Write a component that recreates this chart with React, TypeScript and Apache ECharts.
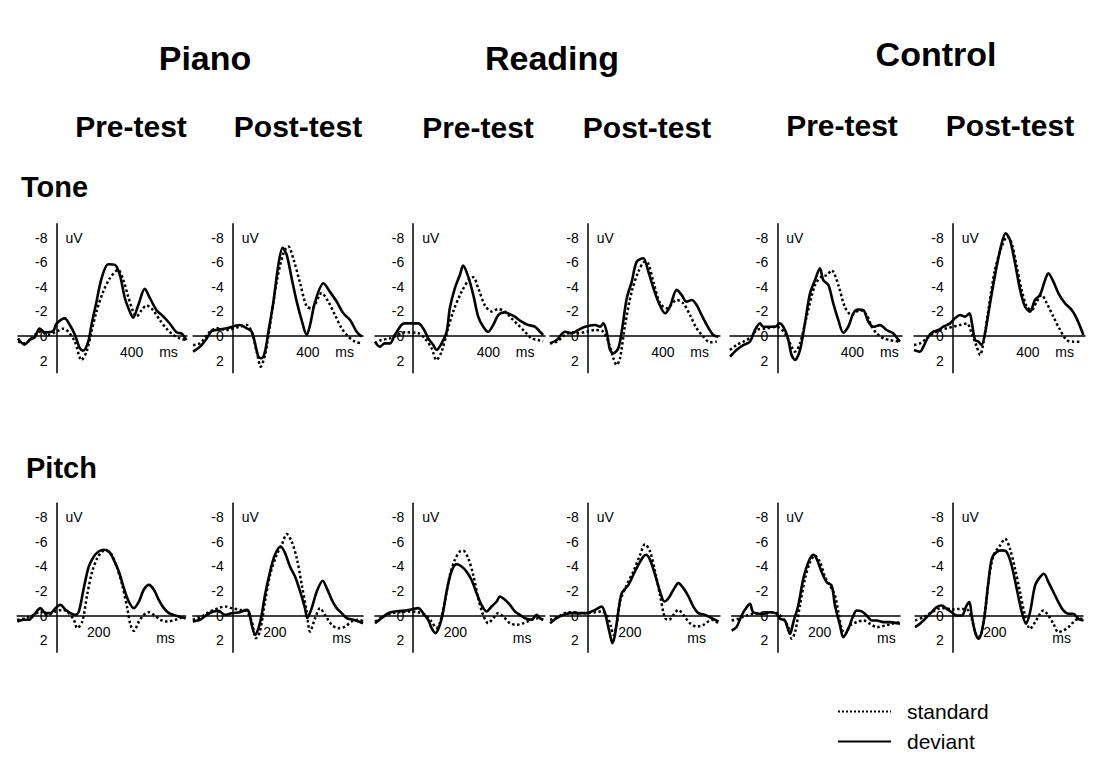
import React, { useEffect, useRef } from "react";
import * as echarts from "echarts";

// ---------- labels ----------
const groups = ["Piano", "Reading", "Control"];
const sessions = ["Pre-test", "Post-test"];
const rowNames = ["Tone", "Pitch"];
const yTicks = [-8, -6, -4, -2, 0, 2];
const toneTicks = [400];
const pitchTicks = [200];
const legendNames = ["standard", "deviant"];

// ---------- data: [ms, uV] ----------
const tonePianoPreDev = [[-205,0.2],[-170,0.7],[-142,0.3],[-115,0.1],[-90,-0.6],[-62,-0.3],[-18,-0.4],[0,-1.0],[44,-1.44],[71,-0.9],[98,-0.1],[124,1.0],[142,1.2],[169,0.46],[186,-0.9],[213,-2.8],[240,-4.7],[275,-5.85],[311,-5.8],[337,-5.0],[364,-3.1],[390,-2.0],[408,-1.5],[435,-2.5],[470,-3.84],[497,-3.1],[533,-2.1],[568,-1.6],[604,-1.0],[639,-0.3],[666,-0.2],[692,0.33]];
const tonePianoPreStd = [[-205,0.46],[-169,0.6],[-115,-0.1],[-89,-0.35],[-44,-0.1],[0,-0.35],[36,-0.6],[62,-0.35],[98,0.46],[133,1.96],[160,1.28],[186,-0.35],[213,-2.0],[248,-3.6],[284,-4.7],[328,-5.4],[355,-4.6],[382,-3.2],[408,-2.0],[426,-1.6],[453,-2.1],[479,-2.5],[515,-2.1],[550,-1.3],[586,-0.6],[621,-0.1],[657,0.2],[692,0.33]];
const tonePianoPostDev = [[-211,1.28],[-174,0.87],[-138,0.19],[-112,-0.41],[-85,-0.49],[-32,-0.63],[39,-0.9],[75,-0.63],[101,-0.35],[119,0.6],[137,1.69],[154,1.82],[172,1.28],[190,-0.35],[217,-2.8],[243,-5.8],[266,-7.2],[288,-6.6],[314,-4.7],[341,-2.8],[367,-1.3],[394,-0.08],[412,-0.9],[439,-2.8],[483,-4.3],[518,-3.6],[554,-2.8],[589,-1.85],[625,-1.3],[660,-0.35],[687,0.05]];
const tonePianoPostStd = [[-211,0.73],[-174,0.6],[-121,-0.35],[-85,-0.63],[-32,-0.49],[39,-0.76],[75,-0.9],[101,-0.35],[128,1.28],[149,2.5],[172,1.55],[199,-0.9],[234,-4.4],[270,-6.75],[296,-7.3],[323,-6.3],[359,-4.3],[394,-2.4],[421,-2.26],[474,-3.5],[509,-2.8],[545,-1.7],[580,-0.63],[616,0.05],[651,0.46],[687,0.6]];
const toneReadingPreDev = [[-204,0.46],[-178,0.87],[-151,0.6],[-124,0.6],[-98,-0.08],[-62,-0.9],[-44,-1.03],[27,-1.03],[53,-0.63],[80,0.19],[107,0.73],[124,1.14],[151,0.6],[178,-0.35],[195,-2.26],[222,-3.9],[249,-5.0],[266,-5.74],[293,-4.84],[320,-3.35],[346,-1.58],[373,-0.76],[399,-0.35],[426,-0.9],[453,-1.7],[488,-1.93],[506,-1.85],[541,-1.58],[577,-1.17],[612,-0.9],[648,-0.76],[674,-0.35],[692,-0.08]];
const toneReadingPreStd = [[-204,0.6],[-169,0.33],[-124,0.19],[-80,-0.08],[-44,-0.3],[27,-0.22],[62,0.19],[98,1.0],[124,1.96],[151,1.28],[186,-0.63],[213,-2.0],[257,-3.6],[302,-4.7],[320,-4.8],[346,-3.9],[382,-2.5],[417,-2.0],[453,-2.2],[488,-2.0],[524,-1.44],[559,-0.9],[595,-0.35],[630,0.19],[666,0.33],[692,0.41]];
const toneReadingPostDev = [[-201,0.6],[-165,0.33],[-121,-0.35],[-85,-0.22],[-50,-0.49],[-14,-0.76],[39,-0.9],[66,-0.76],[83,-1.03],[101,-0.35],[119,1.14],[137,1.41],[163,1.0],[181,-0.35],[208,-3.07],[234,-4.4],[261,-6.07],[296,-6.34],[323,-5.25],[350,-3.9],[376,-2.8],[412,-1.85],[438,-2.4],[474,-3.76],[500,-3.35],[527,-2.8],[554,-2.94],[580,-2.53],[607,-1.7],[634,-0.9],[669,-0.08],[696,0.05]];
const toneReadingPostStd = [[-201,0.6],[-165,0.46],[-121,-0.08],[-85,-0.3],[-50,-0.22],[-5,-0.35],[39,-0.49],[83,-0.35],[110,0.46],[137,1.82],[154,2.37],[172,1.82],[199,-0.9],[234,-3.6],[270,-5.25],[305,-6.07],[323,-5.9],[350,-4.4],[385,-2.67],[421,-2.26],[474,-2.94],[509,-2.67],[545,-1.7],[580,-0.63],[616,0.05],[651,0.52],[687,0.46]];
const toneControlPreDev = [[-252,1.69],[-217,1.14],[-181,0.74],[-146,0.47],[-119,-0.49],[-92,-1.03],[-75,-0.76],[-48,-0.76],[-12,-0.76],[14,-1.03],[41,-0.49],[59,0.33],[76,1.55],[94,1.96],[121,1.14],[147,-1.03],[174,-3.46],[201,-4.56],[227,-5.52],[245,-4.56],[272,-4.16],[298,-2.66],[325,-1.3],[351,-0.27],[378,-0.76],[405,-1.86],[431,-2.16],[458,-2.12],[485,-1.16],[511,-0.76],[547,-0.89],[582,-0.49],[618,-0.21],[653,0.47]];
const toneControlPreStd = [[-252,1.14],[-217,0.74],[-181,0.47],[-137,0.06],[-110,-0.49],[-57,-0.62],[-4,-0.76],[41,-0.21],[76,0.87],[94,1.28],[121,0.6],[156,-1.56],[201,-4.16],[236,-4.86],[263,-4.96],[289,-5.36],[325,-4.16],[360,-2.36],[396,-1.71],[440,-2.12],[476,-1.71],[503,-0.76],[529,-0.21],[565,0.19],[600,0.33],[653,0.47]];
const toneControlPostDev = [[-206,1.14],[-174,1.28],[-156,0.87],[-130,0.05],[-103,-0.35],[-76,-0.49],[-50,-0.76],[-14,-1.03],[12,-1.44],[39,-1.71],[66,-1.58],[89,-1.85],[101,-1.17],[119,0.33],[137,0.46],[154,0.73],[172,-0.22],[199,-2.67],[234,-5.66],[261,-7.56],[282,-8.38],[305,-7.84],[332,-5.93],[359,-3.76],[385,-2.4],[412,-1.99],[438,-2.94],[465,-3.35],[492,-4.57],[509,-5.12],[536,-4.44],[563,-3.48],[598,-2.67],[634,-2.12],[660,-1.44],[696,-0.08]];
const toneControlPostStd = [[-206,0.73],[-174,0.6],[-138,0.19],[-103,-0.22],[-67,-0.49],[-32,-0.63],[4,-0.76],[39,-0.9],[75,-1.03],[101,-0.22],[128,0.87],[146,1.55],[163,0.6],[190,-2.12],[225,-5.39],[261,-7.29],[291,-8.1],[314,-7.56],[341,-5.66],[367,-3.76],[394,-2.4],[421,-2.12],[447,-2.8],[474,-3.35],[501,-2.67],[536,-1.58],[572,-0.49],[607,0.33],[643,0.46],[678,0.46]];

const pitchPianoPreDev = [[-186,0.49],[-155,0.35],[-131,0.35],[-107,-0.05],[-76,-0.6],[-52,-0.19],[-28,-0.19],[-5,-0.6],[19,-0.87],[43,-0.46],[66,-0.19],[90,-0.05],[106,-0.33],[129,-2.23],[153,-4.0],[177,-4.82],[200,-5.22],[224,-5.36],[248,-5.22],[271,-4.54],[295,-3.59],[319,-2.23],[342,-1.14],[366,-0.6],[390,-1.14],[413,-2.1],[437,-2.5],[461,-2.1],[484,-1.28],[508,-0.6],[532,-0.19],[555,-0.05],[579,0.08],[611,0.22]];
const pitchPianoPreStd = [[-186,0.35],[-147,0.22],[-107,-0.05],[-76,-0.33],[-44,-0.05],[-5,-0.33],[27,-0.46],[50,-0.33],[82,0.35],[98,1.03],[122,0.49],[145,-1.69],[169,-3.59],[193,-4.68],[216,-5.22],[232,-5.28],[256,-5.09],[279,-4.27],[311,-2.5],[335,-0.6],[350,0.76],[366,1.25],[390,0.49],[413,-0.05],[437,-0.27],[461,-0.05],[492,0.35],[524,0.49],[563,0.35],[595,0.16],[611,0.22]];
const pitchPianoPostDev = [[-189,0.49],[-155,0.35],[-123,-0.05],[-92,-0.33],[-68,-0.38],[-36,-0.05],[-5,-0.19],[35,-0.27],[66,-0.46],[79,-0.19],[90,0.76],[106,1.58],[122,1.03],[137,-0.05],[153,-1.69],[177,-3.59],[200,-4.95],[227,-5.63],[248,-5.09],[271,-4.0],[295,-3.18],[319,-1.96],[342,-0.6],[353,0.22],[374,-0.6],[398,-1.96],[426,-2.83],[445,-2.23],[469,-1.28],[492,-0.6],[516,-0.19],[540,0.22],[571,0.35],[617,0.63]];
const pitchPianoPostStd = [[-189,0.35],[-147,0.08],[-107,-0.33],[-68,-0.6],[-36,-0.73],[-5,-0.6],[35,-0.46],[66,-0.33],[90,0.49],[110,1.85],[129,1.31],[153,-1.14],[177,-3.32],[208,-4.95],[232,-5.77],[256,-6.64],[279,-6.04],[303,-4.68],[327,-2.5],[350,-0.33],[366,1.31],[390,0.22],[413,-0.6],[437,-0.05],[469,0.76],[500,1.03],[532,0.9],[563,0.49],[595,0.35],[617,0.49]];
const pitchReadingPreDev = [[-181,0.63],[-150,0.22],[-118,-0.19],[-87,-0.33],[-55,-0.38],[-16,-0.46],[24,-0.6],[47,-0.19],[71,0.35],[87,1.03],[106,1.44],[126,0.76],[142,-0.33],[158,-1.96],[181,-3.59],[205,-4.19],[229,-4.0],[252,-3.59],[276,-2.91],[300,-1.82],[323,-0.87],[347,-0.33],[371,-0.73],[395,-1.14],[410,-1.55],[434,-1.28],[458,-0.87],[481,-0.33],[505,-0.05],[529,0.22],[560,0.35],[584,-0.05],[600,0.22],[615,0.35]];
const pitchReadingPreStd = [[-181,0.49],[-142,0.08],[-103,-0.19],[-63,-0.27],[-16,-0.33],[24,-0.27],[55,-0.05],[87,0.49],[110,1.03],[126,0.63],[150,-1.14],[174,-3.32],[197,-4.54],[221,-5.22],[237,-5.28],[260,-4.68],[284,-3.32],[308,-1.41],[331,-0.05],[355,0.63],[379,0.22],[402,-0.19],[426,0.08],[458,0.63],[489,0.76],[521,0.63],[560,0.35],[592,0.22],[615,0.35]];
const pitchReadingPostDev = [[-178,0.63],[-147,0.22],[-115,-0.05],[-84,-0.19],[-44,-0.19],[-5,-0.19],[35,-0.46],[66,-0.73],[82,-0.19],[95,0.76],[106,1.58],[117,2.26],[129,1.58],[145,-0.33],[161,-1.82],[193,-2.5],[216,-3.32],[240,-4.14],[264,-4.82],[276,-4.95],[295,-4.54],[319,-3.32],[342,-1.96],[363,-1.14],[382,-1.41],[406,-2.1],[429,-2.64],[453,-2.23],[477,-1.55],[500,-0.73],[524,-0.19],[555,-0.05],[587,0.22],[619,0.49]];
const pitchReadingPostStd = [[-178,0.35],[-139,0.08],[-92,-0.27],[-44,-0.19],[-5,-0.19],[35,-0.27],[66,-0.33],[90,-0.05],[110,0.9],[122,1.58],[137,0.76],[153,-1.14],[185,-2.5],[216,-3.59],[248,-4.95],[271,-5.82],[295,-5.22],[319,-3.59],[342,-1.69],[366,0.22],[385,0.35],[406,-0.05],[429,-0.46],[453,-0.05],[484,0.63],[516,0.9],[548,0.76],[587,0.35],[619,0.63]];
const pitchControlPreDev = [[-216,1.22],[-193,0.95],[-169,0],[-145,-0.68],[-129,-0.95],[-114,-0.27],[-66,-0.14],[-35,-0.27],[-3,-0.14],[13,0.27],[36,0.41],[60,1.5],[76,0.54],[99,-0.82],[123,-2.99],[147,-4.35],[170,-4.95],[186,-4.63],[210,-3.54],[234,-2.72],[257,-2.45],[273,-0.82],[297,0.82],[312,1.77],[336,1.09],[360,0],[376,-0.41],[399,-0.33],[423,0],[447,0.41],[470,0.41],[502,0.54],[533,0.54],[581,0.68]];
const pitchControlPreStd = [[-216,0.41],[-185,0.27],[-145,0],[-114,-0.14],[-66,-0.22],[-27,-0.27],[5,-0.14],[28,0.27],[52,0.95],[68,1.9],[84,1.36],[107,-0.82],[131,-2.99],[155,-4.35],[178,-4.9],[202,-4.35],[226,-3.13],[249,-2.45],[273,-1.63],[289,-0.27],[305,1.09],[320,1.5],[344,0.82],[376,0.54],[407,0.41],[439,0.68],[470,0.95],[510,0.82],[541,0.68],[581,0.54]];
const pitchControlPostDev = [[-178,0.95],[-155,0.68],[-131,0.27],[-107,-0.14],[-76,-0.68],[-52,-0.82],[-28,-0.54],[-5,-0.27],[19,0],[43,0],[66,-0.82],[79,-1.09],[90,0],[106,1.36],[122,1.9],[137,1.36],[153,-0.27],[169,-2.72],[185,-4.63],[208,-5.17],[232,-5.31],[256,-5.17],[279,-4.08],[303,-2.18],[327,-0.27],[347,0.68],[366,-0.27],[390,-2.45],[413,-3.13],[432,-3.4],[453,-2.72],[477,-1.9],[500,-1.09],[524,-0.41],[548,-0.14],[571,-0.14],[595,0.27],[619,0.41]];
const pitchControlPostStd = [[-178,0.41],[-139,0.14],[-99,-0.27],[-68,-0.54],[-36,-0.6],[-5,-0.49],[27,-0.54],[50,-0.54],[74,-0.41],[90,0.27],[106,1.36],[122,1.77],[137,1.36],[153,-0.27],[169,-2.72],[193,-4.9],[224,-5.71],[248,-6.26],[271,-5.44],[295,-3.81],[319,-1.9],[342,0],[366,1.09],[390,0.54],[413,-0.14],[429,-0.41],[453,0],[477,0.68],[500,1.36],[524,1.22],[548,0.95],[571,0.54],[595,0.27],[619,0.27]];

const panelSeries = [
  [tonePianoPreStd, tonePianoPreDev], [tonePianoPostStd, tonePianoPostDev],
  [toneReadingPreStd, toneReadingPreDev], [toneReadingPostStd, toneReadingPostDev],
  [toneControlPreStd, toneControlPreDev], [toneControlPostStd, toneControlPostDev],
  [pitchPianoPreStd, pitchPianoPreDev], [pitchPianoPostStd, pitchPianoPostDev],
  [pitchReadingPreStd, pitchReadingPreDev], [pitchReadingPostStd, pitchReadingPostDev],
  [pitchControlPreStd, pitchControlPreDev], [pitchControlPostStd, pitchControlPostDev],
];

// ---------- layout ----------
const FONT = '"Liberation Sans", Arial, Helvetica, sans-serif';
const AXIS_X = [56.5, 232.7, 413.2, 587.7, 777.3, 952.7];
const PX_PER_UV = 12.26;
const Y_MIN = -9.15;
const Y_MAX = 3;
const ROWS = [
  { zero: 336, pxPerMs: 0.1878, ticks: toneTicks, msDx: 112, msDy: 16,
    ranges: [[-205, 695], [-211, 694], [-203, 702], [-201, 704], [-252, 664], [-206, 704]] },
  { zero: 615.5, pxPerMs: 0.2113, ticks: pitchTicks, msDx: 109, msDy: 22,
    ranges: [[-186, 611], [-189, 617], [-181, 623], [-178, 626], [-216, 581], [-178, 617]] },
];
const TITLE_POS = [[205, 58], [552, 58], [936, 54]];
const SUB_POS = [[131, 126], [298, 126], [478, 127], [647, 127], [842, 125], [1010, 125]];
const ROWLABEL_POS = [[21, 187], [26, 468]];

function buildOption() {
  const grid: any[] = [], xAxis: any[] = [], yAxis: any[] = [], series: any[] = [], elements: any[] = [];
  const axisLine = { show: true, onZero: false, lineStyle: { color: "#000", width: 1.5 } };
  ROWS.forEach((row, r) => {
    for (let c = 0; c < 6; c++) {
      const i = r * 6 + c;
      const [xmin, xmax] = row.ranges[c];
      const ax = AXIS_X[c];
      grid.push({
        left: ax + xmin * row.pxPerMs,
        top: row.zero + Y_MIN * PX_PER_UV,
        width: (xmax - xmin) * row.pxPerMs,
        height: (Y_MAX - Y_MIN) * PX_PER_UV,
        containLabel: false,
        outerBoundsMode: "none",
      });
      xAxis.push({
        gridIndex: i, type: "value", min: xmin, max: xmax, position: "bottom",
        offset: -Y_MAX * PX_PER_UV,
        axisLine, axisTick: { show: false }, splitLine: { show: false },
        axisLabel: { customValues: row.ticks, color: "#000", fontSize: 14, fontFamily: FONT, margin: 9 },
      });
      yAxis.push({
        gridIndex: i, type: "value", inverse: true, min: Y_MIN, max: Y_MAX, position: "left",
        offset: xmin * row.pxPerMs,
        axisLine, axisTick: { show: false }, splitLine: { show: false },
        axisLabel: { customValues: yTicks, color: "#000", fontSize: 14, fontFamily: FONT, margin: 9 },
      });
      const [std, dev] = panelSeries[i];
      series.push({
        type: "line", name: legendNames[0], xAxisIndex: i, yAxisIndex: i, data: std,
        symbol: "none", smooth: 0.3, lineStyle: { color: "#000", width: 2.5, type: "dotted" },
        itemStyle: { color: "#000" },
      });
      series.push({
        type: "line", name: legendNames[1], xAxisIndex: i, yAxisIndex: i, data: dev,
        symbol: "none", smooth: 0.3, lineStyle: { color: "#000", width: 2.6, type: "solid" },
        itemStyle: { color: "#000" },
      });
      elements.push({
        type: "text", x: ax + 9, y: row.zero - 8 * PX_PER_UV,
        style: { text: "uV", fill: "#000", fontSize: 14, fontFamily: FONT, align: "left", verticalAlign: "middle" },
      });
      elements.push({
        type: "text", x: ax + row.msDx, y: row.zero + row.msDy,
        style: { text: "ms", fill: "#000", fontSize: 14, fontFamily: FONT, align: "center", verticalAlign: "middle" },
      });
    }
  });
  groups.forEach((g, k) => {
    elements.push({
      type: "text", x: TITLE_POS[k][0], y: TITLE_POS[k][1],
      style: { text: g, fill: "#000", fontSize: 34, fontWeight: "bold", fontFamily: FONT, align: "center", verticalAlign: "middle" },
    });
    sessions.forEach((s, j) => {
      const p = SUB_POS[k * 2 + j];
      elements.push({
        type: "text", x: p[0], y: p[1],
        style: { text: s, fill: "#000", fontSize: 30, fontWeight: "bold", fontFamily: FONT, align: "center", verticalAlign: "middle" },
      });
    });
  });
  rowNames.forEach((n, k) => {
    elements.push({
      type: "text", x: ROWLABEL_POS[k][0], y: ROWLABEL_POS[k][1],
      style: { text: n, fill: "#000", fontSize: 29, fontWeight: "bold", fontFamily: FONT, align: "left", verticalAlign: "middle" },
    });
  });

  return {
    animation: false,
    backgroundColor: "#fff",
    textStyle: { fontFamily: FONT },
    grid, xAxis, yAxis, series,
    legend: {
      data: legendNames, orient: "vertical", left: 837, top: 701, padding: 0,
      itemWidth: 53, itemHeight: 14, itemGap: 9,
      itemStyle: { opacity: 0 },
      textStyle: { fontSize: 21, color: "#000", fontFamily: FONT, padding: [0, 0, 0, 11] },
      selectedMode: false,
    },
    graphic: { elements },
  };
}

export default function App() {
  const ref = useRef<HTMLDivElement>(null);
  useEffect(() => {
    if (!ref.current) return;
    const chart = echarts.init(ref.current, undefined, { renderer: "svg" });
    chart.setOption(buildOption() as any);
    return () => chart.dispose();
  }, []);
  return <div ref={ref} style={{ position: "fixed", left: 0, top: 0, width: 1097, height: 780 }} />;
}
